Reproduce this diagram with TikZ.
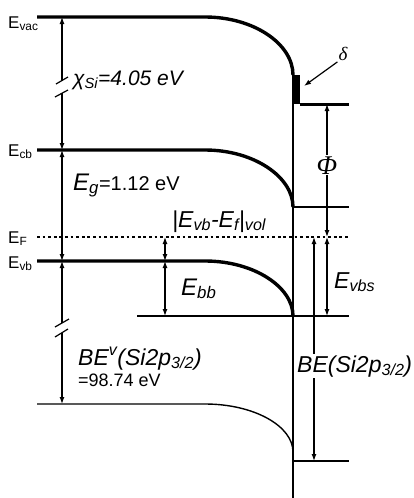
\documentclass[tikz,border=0pt]{standalone}
\usepackage{fontspec}
\setmainfont{Liberation Sans}
\newfontfamily\serifgr{Liberation Serif}
\usetikzlibrary{arrows.meta}
\tikzset{
  >={Latex[length=7pt,width=5pt]},
  lvl/.style={line width=3.4pt},
  core/.style={line width=1.4pt},
  thin/.style={line width=1.2pt},
  fermi/.style={line width=2.8pt,dash pattern=on 2.8pt off 2.8pt},
  arr/.style={<->,line width=1.2pt},
  brk/.style={line width=1.2pt},
  lab/.style={inner sep=0pt,anchor=base west,font=\fontsize{23}{24}\selectfont\itshape},
  side/.style={inner sep=0pt,anchor=base west,font=\fontsize{17}{20}\selectfont},
}
\newcommand\rmpart[1]{{\upshape\fontsize{20}{20}\selectfont #1}}

\begin{document}
\begin{tikzpicture}[x=1pt,y=-1pt]
\useasboundingbox (0,0) rectangle (414,498);
% band edges, bent up to the surface
\draw[lvl] (37,17) -- (205,17) .. controls (254,17) and (293,44) .. (293,75);
\draw[lvl] (37,150) -- (205,150) .. controls (254,150) and (293,177) .. (293,207);
\draw[lvl] (37,261) -- (205,261) .. controls (254,261) and (293,287) .. (293,316);
\draw[core] (37,404) -- (205,404) .. controls (254,404) and (293,426) .. (293,452);
\draw[fermi] (37,237) -- (349,237);
% surface, dipole layer and reference lines
\draw[thin] (293,75) -- (293,498);
\fill (292,75) rectangle (300,104);
\draw[line width=3pt] (300,104) -- (349,104);
\draw[thin] (293,207) -- (349,207);
\draw[thin] (137,316) -- (349,316);
\draw[thin] (293,461) -- (349,461);
% level names
\node[side] (vac) at (8,28) {E\textsubscript{vac}};
\node[side] (cb) at (8,156) {E\textsubscript{cb}};
\node[side] (ef) at (8,243) {E\textsubscript{F}};
\node[side] (vb) at (8,268) {E\textsubscript{vb}};
% left energy scale
\coordinate (vacA) at (62,17);
\coordinate (cbA) at (62,150);
\coordinate (vbA) at (62,261);
\coordinate (coreA) at (62,404);
\coordinate (brk1) at (62,80);
\coordinate (brk2) at (62,93);
\coordinate (brk3) at (62,323);
\coordinate (brk4) at (62,333);
\draw[->,thin] (brk1) -- (vacA);
\draw[->,thin] (brk2) -- (cbA);
\draw[arr] (cbA) -- (vbA);
\draw[->,thin] (brk3) -- (vbA);
\draw[->,thin] (brk4) -- (coreA);
\draw[brk] (56,84) -- (68,77);
\draw[brk] (55,97) -- (68,90);
\draw[brk] (55,327) -- (69,319);
\draw[brk] (55,337) -- (68,329);
\node[lab,font=\fontsize{21}{24}\selectfont\itshape] (chi) at (73,85) {χ\textsubscript{Si}=4.05 eV};
\node[lab,font=\fontsize{24}{24}\selectfont\itshape] (eg) at (73,190) {E\textsubscript{g}\rmpart{=1.12 eV}};
\node[lab] (bev) at (78,365) {BE\textsuperscript{v}(Si2p\textsubscript{3/2})};
\node[side,font=\fontsize{18}{20}\selectfont] (bevval) at (78,386) {=98.74 eV};
% band bending in the bulk
\coordinate (fM) at (165,237);
\coordinate (vbM) at (165,261);
\coordinate (bbM) at (165,316);
\draw[arr] (fM) -- (vbM);
\draw[arr] (vbM) -- (bbM);
\node[lab] (evbf) at (172,227) {|E\textsubscript{vb}-E\textsubscript{f}|\textsubscript{vol}};
\node[lab,font=\fontsize{24}{24}\selectfont\itshape] (ebb) at (181,295) {E\textsubscript{bb}};
% surface quantities
\coordinate (vacR) at (327,104);
\coordinate (fR) at (327,237);
\coordinate (vbsR) at (327,316);
\coordinate (fB) at (314,237);
\coordinate (coreR) at (314,461);
\draw[arr] (vacR) -- node[pos=0.46,fill=white,inner sep=1pt,font=\fontsize{27}{28}\selectfont\serifgr\itshape] (phi) {Φ} (fR);
\draw[arr] (fR) -- (vbsR);
\draw[arr] (fB) -- (coreR);
\node[lab] (evbs) at (334,288) {E\textsubscript{vbs}};
\node[lab,fill=white,inner sep=1pt] (be) at (296,372) {BE(Si2p\textsubscript{3/2})};
\node[font=\fontsize{19}{20}\selectfont\serifgr\itshape,inner sep=1pt] (delta) at (343,54) {δ};
\coordinate (dip) at (304,86);
\draw[->,thin] (delta.south west) -- (dip);
\end{tikzpicture}
\end{document}
